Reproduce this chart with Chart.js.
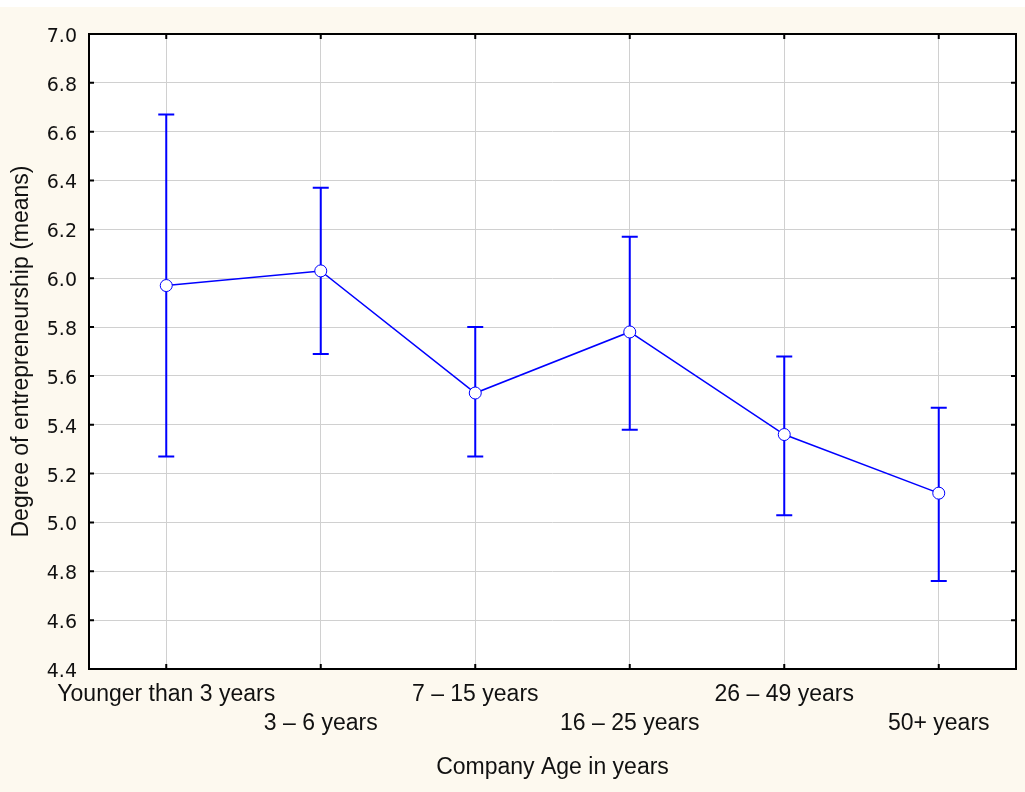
<!DOCTYPE html>
<html lang="en">
<head>
<meta charset="UTF-8">
<title>Degree of entrepreneurship by company age</title>
<script src="https://cdn.jsdelivr.net/npm/chart.js"></script>
<style>
  body { margin: 0; background: #ffffff; }
  #wrap { position: absolute; left: 0; top: 7px; width: 1025px; height: 785px; background: #fdf9ef; }
</style>
</head>
<body>
<div id="wrap"><canvas id="chart" width="1025" height="785"></canvas></div>
<script>
// data
const ageGroups = ['Younger than 3 years', '3 – 6 years', '7 – 15 years', '16 – 25 years', '26 – 49 years', '50+ years'];
const means = [5.97, 6.03, 5.53, 5.78, 5.36, 5.12];
const upper = [6.67, 6.37, 5.80, 6.17, 5.68, 5.47];
const lower = [5.27, 5.69, 5.27, 5.38, 5.03, 4.76];

const blue = '#0000ff';
const font = "Arial, 'Liberation Sans', sans-serif";

// whiskers plus the black frame with inward ticks
const errorBars = {
  id: 'errorBars',
  beforeDatasetsDraw(chart) {
    const ctx = chart.ctx;
    const x = chart.scales.x, y = chart.scales.y;
    const a = chart.chartArea;
    ctx.save();
    ctx.strokeStyle = blue;
    ctx.lineWidth = 2;
    means.forEach((m, i) => {
      const px = x.getPixelForValue(i);
      const top = y.getPixelForValue(upper[i]);
      const bot = y.getPixelForValue(lower[i]);
      ctx.beginPath();
      ctx.moveTo(px, top); ctx.lineTo(px, bot);
      ctx.moveTo(px - 8, top); ctx.lineTo(px + 8, top);
      ctx.moveTo(px - 8, bot); ctx.lineTo(px + 8, bot);
      ctx.stroke();
    });
    ctx.strokeStyle = '#000';
    ctx.lineWidth = 2;
    ctx.strokeRect(a.left, a.top, a.right - a.left, a.bottom - a.top);
    ctx.beginPath();
    y.ticks.forEach(t => {
      const py = y.getPixelForValue(t.value);
      ctx.moveTo(a.left, py); ctx.lineTo(a.left + 5, py);
      ctx.moveTo(a.right, py); ctx.lineTo(a.right - 5, py);
    });
    ageGroups.forEach((g, i) => {
      const px = x.getPixelForValue(i);
      ctx.moveTo(px, a.top); ctx.lineTo(px, a.top + 5);
      ctx.moveTo(px, a.bottom); ctx.lineTo(px, a.bottom - 5);
    });
    ctx.stroke();
    ctx.restore();
  }
};

const plotBg = {
  id: 'plotBg',
  beforeDraw(chart) {
    const a = chart.chartArea;
    chart.ctx.save();
    chart.ctx.fillStyle = '#ffffff';
    chart.ctx.fillRect(a.left, a.top, a.right - a.left, a.bottom - a.top);
    chart.ctx.restore();
  }
};

new Chart(document.getElementById('chart'), {
  type: 'line',
  data: {
    labels: ageGroups,
    datasets: [{
      data: means,
      borderColor: blue,
      borderWidth: 1.5,
      pointRadius: 6,
      pointBackgroundColor: '#ffffff',
      pointBorderColor: blue,
      pointBorderWidth: 1,
      tension: 0
    }]
  },
  options: {
    responsive: false,
    animation: false,
    layout: { padding: { top: 27, right: 9, left: 0, bottom: 0 } },
    plugins: { legend: { display: false }, tooltip: { enabled: false } },
    scales: {
      x: {
        offset: true,
        grid: { color: '#d0d0d0', offset: false, drawTicks: false },
        border: { display: false },
        ticks: {
          color: '#111',
          font: { family: font, size: 23, lineHeight: 1.26 },
          autoSkip: false,
          maxRotation: 0,
          padding: 11,
          callback: (v, i) => i % 2 === 0 ? [ageGroups[i], ''] : ['', ageGroups[i]]
        },
        title: { display: true, text: 'Company Age in years', color: '#111', font: { family: font, size: 23 }, padding: { top: 0, bottom: 11 } },
        afterFit: s => { s.height = 123; }
      },
      y: {
        min: 4.4,
        max: 7.0,
        grid: { color: '#d0d0d0', drawTicks: false },
        border: { display: false },
        ticks: {
          stepSize: 0.2,
          color: '#111',
          padding: 12,
          labelOffset: 3,
          font: { family: "'DejaVu Sans', sans-serif", size: 19 },
          callback: v => Number(v).toFixed(1)
        },
        title: { display: true, text: 'Degree of entrepreneurship (means)', color: '#111', font: { family: font, size: 23 }, padding: { top: 8, bottom: 0 } },
        afterFit: s => { s.width = 89; }
      }
    }
  },
  plugins: [plotBg, errorBars]
});
</script>
</body>
</html>
